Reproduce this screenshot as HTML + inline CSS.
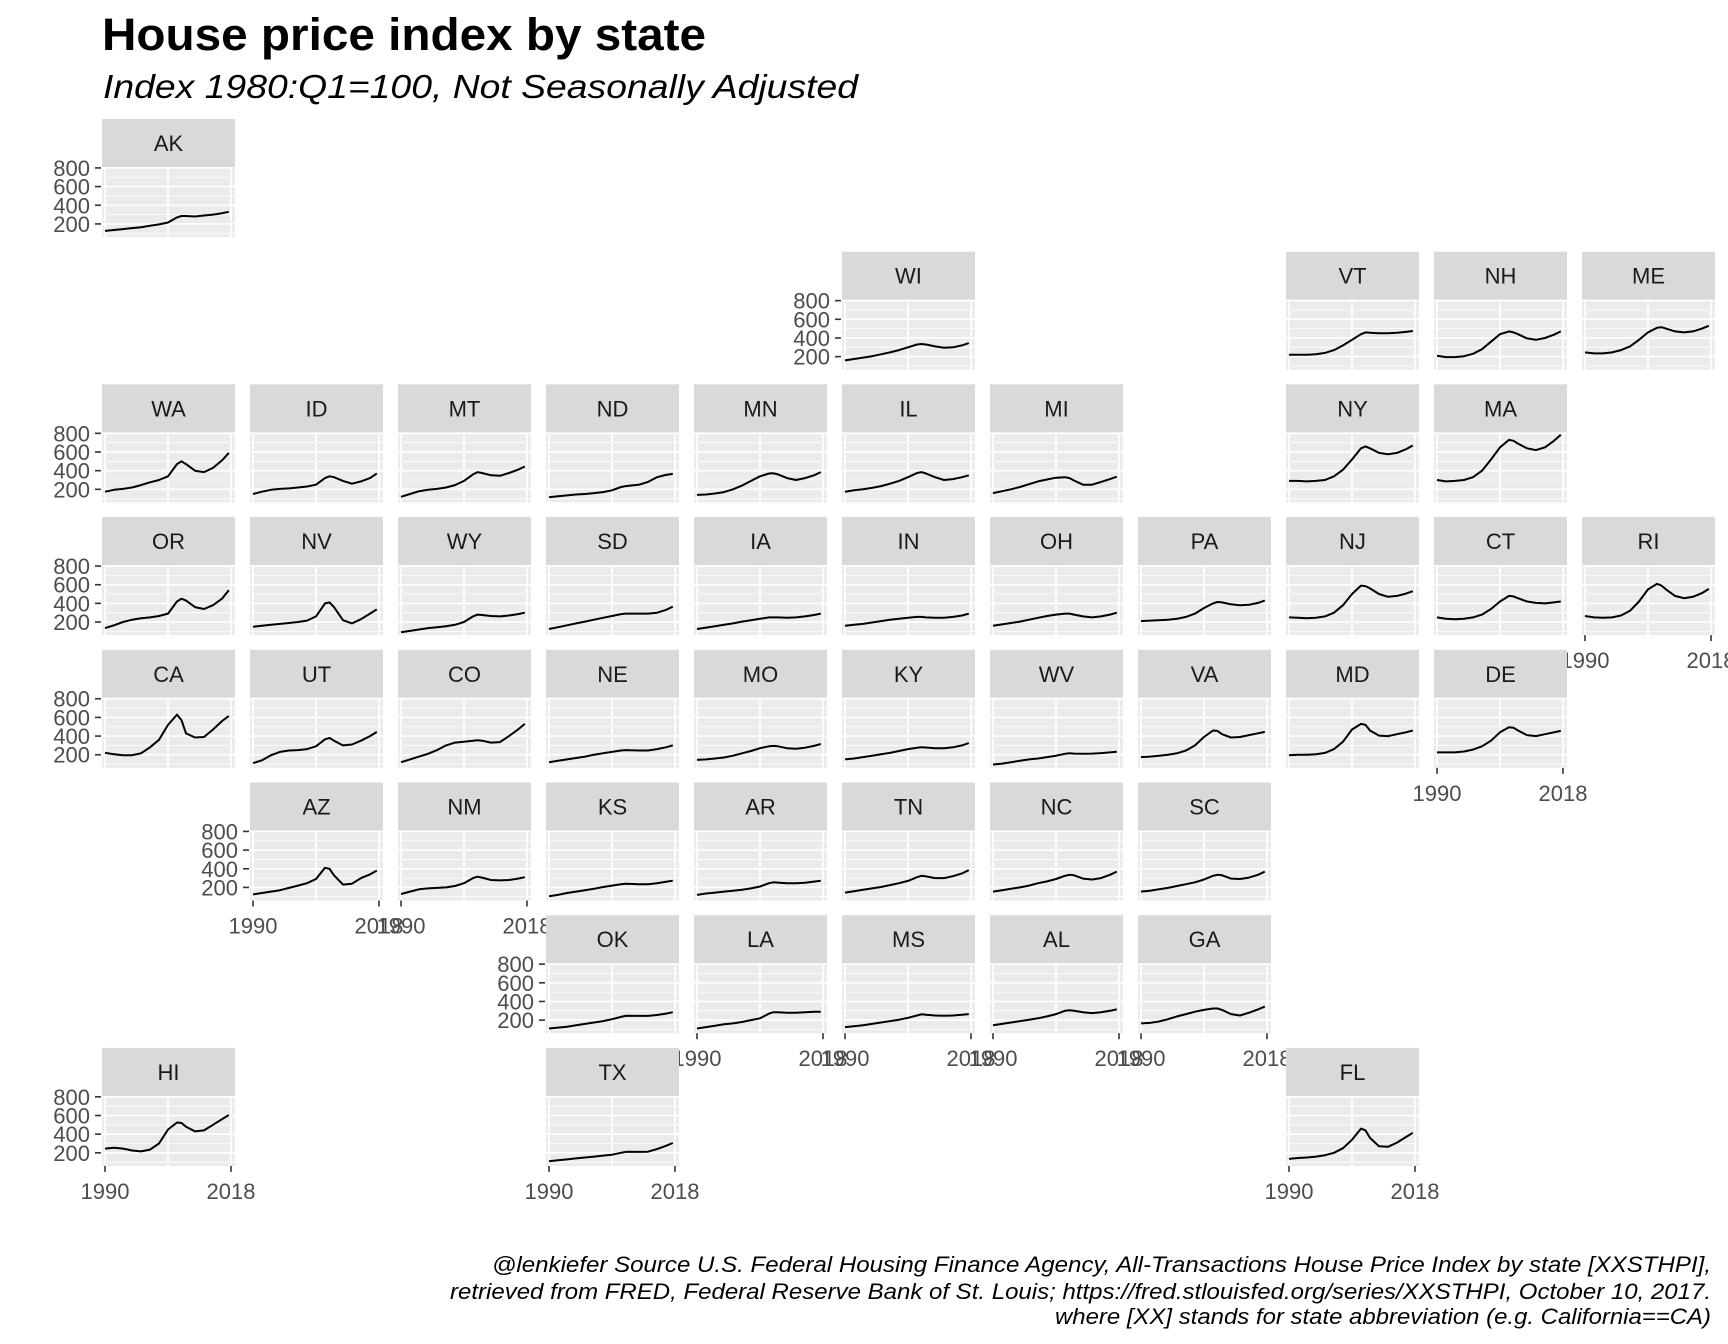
<!DOCTYPE html>
<html><head><meta charset="utf-8"><style>
html,body{margin:0;padding:0;background:#fff;}
svg{display:block;font-family:"Liberation Sans",Arial,sans-serif;}
</style></head><body>
<svg id="chart" width="1728" height="1344" viewBox="0 0 1728 1344" xmlns="http://www.w3.org/2000/svg">
<text x="102" y="50" font-size="45" font-weight="bold" fill="#000" textLength="604" lengthAdjust="spacingAndGlyphs">House price index by state</text>
<text x="103" y="98" font-size="33" font-style="italic" fill="#000" textLength="755" lengthAdjust="spacingAndGlyphs">Index 1980:Q1=100, Not Seasonally Adjusted</text>
<g id="panels"></g>
<g font-size="22" font-style="italic" fill="#000">
<text x="492" y="1272" textLength="1219" lengthAdjust="spacingAndGlyphs">@lenkiefer Source U.S. Federal Housing Finance Agency, All-Transactions House Price Index by state [XXSTHPI],</text>
<text x="450" y="1299" textLength="1261" lengthAdjust="spacingAndGlyphs">retrieved from FRED, Federal Reserve Bank of St. Louis; https://fred.stlouisfed.org/series/XXSTHPI, October 10, 2017.</text>
<text x="1055" y="1324" textLength="656" lengthAdjust="spacingAndGlyphs">where [XX] stands for state abbreviation (e.g. California==CA)</text>
</g>
</svg>
<script>
const years = [1990,1992,1994,1996,1998,2000,2002,2004,2006,2007,2008,2010,2012,2014,2016,2017.5];
const yTicks = [200,400,600,800];
const yMinor = [100,300,500,700];
const xTickLabels = [1990,2018];
const xMajor = [1990,2004,2018];
const stateCodes = ["AK","WI","VT","NH","ME","WA","ID","MT","ND","MN","IL","MI","NY","MA","OR","NV","WY","SD","IA","IN","OH","PA","NJ","CT","RI","CA","UT","CO","NE","MO","KY","WV","VA","MD","DE","AZ","NM","KS","AR","TN","NC","SC","OK","LA","MS","AL","GA","HI","TX","FL"];
const AK=[125,135,145,155,165,180,195,215,270,285,285,280,290,300,315,330];
const WI=[160,175,190,205,225,245,270,300,330,335,330,310,295,300,320,345];
const VT=[220,220,220,225,240,270,320,380,440,460,455,450,450,455,465,475];
const NH=[210,195,195,205,230,280,360,440,470,460,440,395,380,400,435,470];
const ME=[245,235,235,245,270,310,380,460,510,515,500,470,460,470,500,530];
const WA=[175,195,205,220,245,275,300,340,470,500,470,400,385,430,510,590];
const ID=[150,175,195,205,210,220,230,250,320,340,330,290,260,285,320,370];
const MT=[120,150,180,195,205,220,245,290,360,385,375,350,345,375,410,445];
const ND=[115,125,135,145,150,160,170,190,225,235,240,250,280,330,355,365];
const MN=[140,145,155,170,200,240,290,340,370,372,360,320,300,320,350,385];
const IL=[175,190,200,215,235,260,290,330,375,385,370,330,300,310,330,350];
const MI=[160,180,200,225,255,285,305,325,330,320,295,250,250,280,310,335];
const NY=[290,290,285,290,300,340,410,520,640,660,640,590,575,590,630,670];
const MA=[300,285,290,300,330,400,520,650,730,720,690,640,620,650,720,785];
const OR=[135,165,200,225,240,250,265,290,420,450,430,360,340,380,450,540];
const NV=[150,160,170,180,190,200,215,260,400,410,360,220,185,230,290,335];
const WY=[90,105,120,135,145,155,170,200,260,280,275,265,260,270,285,300];
const SD=[125,145,165,185,205,225,245,265,285,290,290,290,290,300,330,365];
const IA=[125,140,155,170,185,205,220,235,250,250,250,245,250,260,275,290];
const IN=[160,170,180,195,210,225,235,245,255,255,250,245,245,255,270,290];
const OH=[160,175,190,205,225,245,265,280,290,290,280,260,250,260,280,300];
const PA=[210,215,220,225,235,255,290,350,400,415,410,390,380,385,405,430];
const NJ=[250,245,240,245,260,300,380,500,590,585,560,500,470,480,505,530];
const CT=[250,235,230,235,250,280,340,420,480,475,455,420,405,400,410,420];
const RI=[265,250,245,250,270,320,420,550,610,590,550,480,455,470,510,555];
const CA=[220,205,195,195,215,280,360,520,630,570,430,385,390,470,560,615];
const UT=[110,140,195,230,245,250,260,290,365,380,350,300,310,350,400,445];
const CO=[120,150,180,210,250,300,330,340,350,355,350,330,335,400,470,530];
const NE=[120,135,150,165,180,200,215,230,245,250,248,245,245,260,280,300];
const MO=[145,150,160,170,190,215,240,270,290,295,290,270,265,275,295,315];
const KY=[150,160,175,190,205,220,240,260,275,280,278,270,270,280,300,325];
const WV=[95,105,120,135,150,160,175,190,210,215,212,210,212,218,225,232];
const VA=[175,180,190,200,215,245,300,390,460,455,420,385,390,410,430,445];
const MD=[195,200,200,205,220,260,340,470,530,520,460,405,400,420,440,460];
const DE=[225,225,225,235,255,290,350,440,495,490,460,410,400,420,440,455];
const AZ=[125,140,155,170,195,220,245,290,410,400,330,230,240,300,340,380];
const NM=[130,155,180,190,195,200,215,245,300,315,305,280,275,280,295,310];
const KS=[105,120,140,155,170,185,205,220,235,240,238,235,235,245,260,272];
const AR=[120,135,145,155,165,175,190,210,245,255,252,245,245,250,262,272];
const TN=[145,160,175,190,205,225,245,270,310,325,318,300,300,320,350,385];
const NC=[155,170,185,200,220,245,265,290,325,335,330,295,285,300,335,370];
const SC=[155,165,180,195,215,235,255,285,325,335,330,295,290,305,335,370];
const OK=[110,120,130,145,160,175,190,210,235,245,248,245,245,255,270,285];
const LA=[110,125,140,155,165,180,200,220,270,285,285,280,280,285,290,290];
const MS=[125,135,145,160,175,190,205,225,250,262,258,250,248,250,258,265];
const AL=[145,160,175,190,205,220,240,265,300,305,300,285,275,285,300,315];
const GA=[165,170,185,210,240,265,290,310,325,325,310,265,250,280,315,345];
const HI=[245,255,245,225,215,235,300,450,525,520,480,430,440,500,560,605];
const TX=[110,120,130,140,150,160,170,180,200,210,212,210,212,240,275,305];
const FL=[135,145,150,160,175,200,250,340,460,440,360,270,265,310,370,415];
const seriesByState={AK,WI,VT,NH,ME,WA,ID,MT,ND,MN,IL,MI,NY,MA,OR,NV,WY,SD,IA,IN,OH,PA,NJ,CT,RI,CA,UT,CO,NE,MO,KY,WV,VA,MD,DE,AZ,NM,KS,AR,TN,NC,SC,OK,LA,MS,AL,GA,HI,TX,FL};
const gridRows=[0,1,1,1,1,2,2,2,2,2,2,2,2,2,3,3,3,3,3,3,3,3,3,3,3,4,4,4,4,4,4,4,4,4,4,5,5,5,5,5,5,5,6,6,6,6,6,7,7,7];
const gridCols=[0,5,8,9,10,0,1,2,3,4,5,6,8,9,0,1,2,3,4,5,6,7,8,9,10,0,1,2,3,4,5,6,7,8,9,1,2,3,4,5,6,7,3,4,5,6,7,0,3,8];
const yAxisStates=["AK","WI","WA","OR","CA","AZ","OK","HI"];
const xAxisStates=["RI","DE","AZ","NM","LA","MS","AL","GA","HI","TX","FL"];

const NS="http://www.w3.org/2000/svg";
const PW=133, SH=48, PH=70, Y_MIN=60, Y_MAX=810;
function colX(c){return 102+148*c;}
function rowY(r){return 119+132.7*r;}
function xScale(left,yr){return left+3+(yr-1990)*126/28;}
function yScale(top,v){return top+(Y_MAX-v)*PH/(Y_MAX-Y_MIN);}
function mk(tag,attrs,parent){const e=document.createElementNS(NS,tag);for(const k in attrs)e.setAttribute(k,attrs[k]);parent.appendChild(e);return e;}
const root=document.getElementById('panels');
stateCodes.forEach((st,i)=>{
  const left=colX(gridCols[i]);
  const stripTop=rowY(gridRows[i]);
  const top=stripTop+SH;
  const g=mk('g',{},root);
  
  
  const strip=mk('rect',{x:left,y:stripTop,width:PW,height:SH,fill:'#d9d9d9'},g);
  
  
  const lab=mk('text',{x:left+PW/2,y:stripTop+32,'font-size':22,'text-anchor':'middle',fill:'#1a1a1a'},g);
  lab.textContent=st;
  
  
  const bg=mk('rect',{x:left,y:top,width:PW,height:PH,fill:'#ebebeb'},g);
  
  
  yMinor.forEach(v=>{const l=mk('line',{x1:left,x2:left+PW,y1:yScale(top,v),y2:yScale(top,v),stroke:'#fff','stroke-width':0.8},g);});
  yTicks.forEach(v=>{const l=mk('line',{x1:left,x2:left+PW,y1:yScale(top,v),y2:yScale(top,v),stroke:'#fff','stroke-width':1.6},g);});
  xMajor.forEach(yr=>{const l=mk('line',{x1:xScale(left,yr),x2:xScale(left,yr),y1:top,y2:top+PH,stroke:'#fff','stroke-width':1.6},g);});
  const vals=seriesByState[st];
  const pts=years.map((yr,k)=>xScale(left,yr).toFixed(1)+','+yScale(top,vals[k]).toFixed(1)).join(' ');
  const line=mk('polyline',{points:pts,fill:'none',stroke:'#000','stroke-width':2,'stroke-linejoin':'round'},g);
  
  
  if(yAxisStates.includes(st)){
    yTicks.forEach(v=>{
      const y=yScale(top,v);
      const t=mk('line',{x1:left-7,x2:left-1,y1:y,y2:y,stroke:'#333','stroke-width':1.6},g);
      
      
      const tl=mk('text',{x:left-12,y:y+8,'font-size':22,'text-anchor':'end',fill:'#4d4d4d'},g);
      tl.textContent=v;
      
      
    });
  }
  if(xAxisStates.includes(st)){
    xTickLabels.forEach(yr=>{
      const x=xScale(left,yr);
      const t=mk('line',{x1:x,x2:x,y1:top+PH,y2:top+PH+6,stroke:'#333','stroke-width':1.6},g);
      
      
      const tl=mk('text',{x:x,y:top+PH+33,'font-size':22,'text-anchor':'middle',fill:'#4d4d4d'},g);
      tl.textContent=yr;
      
      
    });
  }
});
</script>
</body></html>
